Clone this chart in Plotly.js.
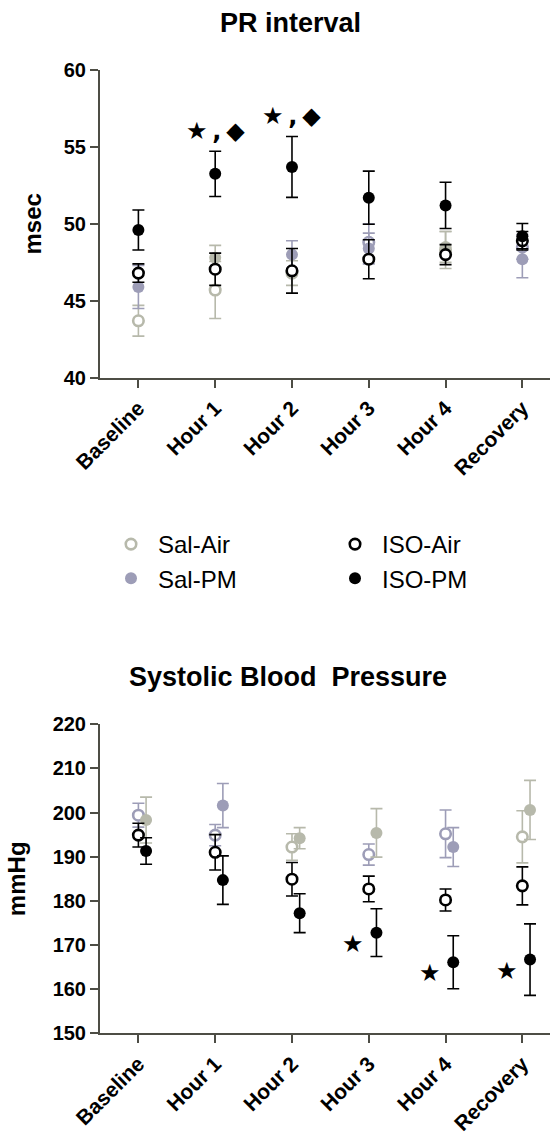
<!DOCTYPE html>
<html>
<head>
<meta charset="utf-8">
<script src="https://cdn.plot.ly/plotly-3.0.1.min.js"></script>
<style>
  html, body { margin: 0; padding: 0; background: #ffffff; }
  #chart { width: 550px; height: 1138px; }
</style>
</head>
<body>
<div id="chart"></div>
<script>
// Time points shared by both panels
const timepoints = ['Baseline', 'Hour 1', 'Hour 2', 'Hour 3', 'Hour 4', 'Recovery'];

// PR interval (msec), mean and SEM per group
const prSalAir     = [43.7, 45.7, 46.8, 48.8, 48.3, 48.5];
const prSalAirSem  = [1.0, 1.85, 0.8, 1.2, 1.2, 0.8];
const prSalPM      = [45.9, 47.8, 48.0, 48.4, 48.5, 47.7];
const prSalPMSem   = [1.4, 0.8, 0.9, 1.0, 1.0, 1.2];
const prIsoAir     = [46.8, 47.05, 46.95, 47.7, 48.0, 48.9];
const prIsoAirSem  = [0.6, 1.05, 1.45, 1.27, 0.65, 0.6];
const prIsoPM      = [49.6, 53.25, 53.7, 51.7, 51.2, 49.2];
const prIsoPMSem   = [1.3, 1.47, 1.98, 1.73, 1.5, 0.82];
const prSigLabels  = ['', '★\u2009<b>,</b>\u2009◆', '★\u2009<b>,</b>\u2009◆', '', '', ''];

// Systolic blood pressure (mmHg), mean and SEM per group
const sbpSalAir    = [199.4, 194.9, 192.2, 190.5, 195.2, 194.5];
const sbpSalAirSem = [2.7, 2.4, 3.0, 2.4, 5.4, 5.9];
const sbpSalPM     = [198.3, 201.6, 194.2, 195.4, 192.2, 200.6];
const sbpSalPMSem  = [5.2, 5.0, 2.4, 5.5, 4.4, 6.7];
const sbpIsoAir    = [194.9, 191.0, 184.9, 182.7, 180.2, 183.4];
const sbpIsoAirSem = [2.7, 4.0, 3.8, 2.9, 2.5, 4.3];
const sbpIsoPM     = [191.3, 184.7, 177.2, 172.8, 166.1, 166.7];
const sbpIsoPMSem  = [3.0, 5.5, 4.4, 5.4, 6.0, 8.1];
const sbpSigLabels = ['', '', '', '★', '★', '★'];

// Shade used for each saline point (g = grey-green, b = lavender grey)
const prSalAirShade  = ['g', 'g', 'g', 'b', 'g', 'b'];
const prSalPMShade   = ['b', 'g', 'b', 'b', 'g', 'b'];
const sbpSalAirShade = ['b', 'b', 'g', 'b', 'b', 'g'];
const sbpSalPMShade  = ['g', 'b', 'g', 'g', 'b', 'g'];

const FONT = 'Liberation Sans, Arial, Helvetica, sans-serif';
const SYMBOL_FONT = 'DejaVu Sans, sans-serif';
const SHADES = { g: '#b7b9ab', b: '#9d9db7', k: '#000000' };
const AXIS_COLOR = '#4d4d45';

const traces = [];

// Builds one trace per colour group so that markers and error bars share a colour
function addSeries(opts) {
  const shades = opts.shade || opts.mean.map(() => 'k');
  const groups = [...new Set(shades)];
  groups.forEach(key => {
    const idx = opts.mean.map((_, i) => i).filter(i => shades[i] === key);
    const color = SHADES[key];
    const open = opts.open;
    traces.push({
      type: 'scatter',
      mode: 'markers',
      name: opts.name,
      legend: opts.legend,
      legendrank: opts.rank,
      showlegend: opts.legendShade === key,
      xaxis: opts.xaxis,
      yaxis: opts.yaxis,
      x: idx.map(i => i + opts.offset),
      y: idx.map(i => opts.mean[i]),
      error_y: {
        type: 'data',
        array: idx.map(i => opts.sem[i]),
        color: color,
        thickness: 1.6,
        width: 6
      },
      marker: open
        ? { symbol: 'circle', size: 10.5, color: '#ffffff', line: { color: color, width: 2.6 } }
        : { symbol: 'circle', size: 12, color: color, line: { width: 0 } },
      hoverinfo: 'skip'
    });
  });
}

// PR interval panel
addSeries({ name: 'Sal-Air', mean: prSalAir, sem: prSalAirSem, shade: prSalAirShade, open: true,
  offset: 0, xaxis: 'x', yaxis: 'y', legend: 'legend', rank: 1, legendShade: 'g' });
addSeries({ name: 'Sal-PM', mean: prSalPM, sem: prSalPMSem, shade: prSalPMShade, open: false,
  offset: 0, xaxis: 'x', yaxis: 'y', legend: 'legend', rank: 2, legendShade: 'b' });
addSeries({ name: 'ISO-Air', mean: prIsoAir, sem: prIsoAirSem, open: true,
  offset: 0, xaxis: 'x', yaxis: 'y', legend: 'legend2', rank: 1, legendShade: 'k' });
addSeries({ name: 'ISO-PM', mean: prIsoPM, sem: prIsoPMSem, open: false,
  offset: 0, xaxis: 'x', yaxis: 'y', legend: 'legend2', rank: 2, legendShade: 'k' });

// Systolic blood pressure panel (PM groups drawn slightly to the right)
addSeries({ name: 'Sal-Air', mean: sbpSalAir, sem: sbpSalAirSem, shade: sbpSalAirShade, open: true,
  offset: 0, xaxis: 'x2', yaxis: 'y2', legend: 'legend', rank: 1, legendShade: null });
addSeries({ name: 'Sal-PM', mean: sbpSalPM, sem: sbpSalPMSem, shade: sbpSalPMShade, open: false,
  offset: 0.1, xaxis: 'x2', yaxis: 'y2', legend: 'legend', rank: 2, legendShade: null });
addSeries({ name: 'ISO-Air', mean: sbpIsoAir, sem: sbpIsoAirSem, open: true,
  offset: 0, xaxis: 'x2', yaxis: 'y2', legend: 'legend2', rank: 1, legendShade: null });
addSeries({ name: 'ISO-PM', mean: sbpIsoPM, sem: sbpIsoPMSem, open: false,
  offset: 0.1, xaxis: 'x2', yaxis: 'y2', legend: 'legend2', rank: 2, legendShade: null });

// Significance marks
const annotations = [];
prSigLabels.forEach((txt, i) => {
  if (!txt) return;
  annotations.push({
    xref: 'x', yref: 'y', x: i, y: prIsoPM[i] + prIsoPMSem[i],
    text: txt, showarrow: false, yanchor: 'bottom', yshift: 4,
    font: { family: SYMBOL_FONT, size: 24, color: '#000' }
  });
});
sbpSigLabels.forEach((txt, i) => {
  if (!txt) return;
  annotations.push({
    xref: 'x2', yref: 'y2', x: i - 0.2, y: sbpIsoPM[i],
    text: txt, showarrow: false, yanchor: 'middle', yshift: -11,
    font: { family: SYMBOL_FONT, size: 24, color: '#000' }
  });
});

// Panel titles
annotations.push({
  xref: 'paper', yref: 'paper', x: 0.4244, y: 1 - 22.7 / 1138, xanchor: 'center', yanchor: 'middle',
  text: '<b>PR interval</b>', showarrow: false, font: { family: FONT, size: 27, color: '#000' }
});
annotations.push({
  xref: 'paper', yref: 'paper', x: 0.4167, y: 1 - 676.7 / 1138, xanchor: 'center', yanchor: 'middle',
  text: '<b>Systolic Blood\u00a0 Pressure</b>', showarrow: false, font: { family: FONT, size: 27, color: '#000' }
});

const xCommon = {
  range: [-0.5, 5.36],
  tickmode: 'array',
  tickvals: timepoints.map((_, i) => i),
  ticktext: timepoints.map(t => '<b>' + t + '</b>'),
  tickangle: -45,
  tickfont: { family: FONT, size: 21, color: '#000' },
  ticks: 'outside', ticklen: 8, tickwidth: 2, tickcolor: AXIS_COLOR,
  showline: true, linecolor: AXIS_COLOR, linewidth: 2,
  showgrid: false, zeroline: false, fixedrange: true
};
const yCommon = {
  tickfont: { family: FONT, size: 20, color: '#000' },
  ticks: 'outside', ticklen: 8, tickwidth: 2, tickcolor: AXIS_COLOR,
  showline: true, linecolor: AXIS_COLOR, linewidth: 2,
  showgrid: false, zeroline: false, fixedrange: true,
  tickprefix: '<b>', ticksuffix: '</b>'
};

const legendCommon = {
  xref: 'paper', yref: 'paper', y: 1 - 522 / 1138,
  xanchor: 'left', yanchor: 'top', orientation: 'v', itemwidth: 44,
  font: { family: FONT, size: 24, color: '#000' }, bgcolor: 'rgba(0,0,0,0)', itemclick: false
};

const layout = {
  width: 550, height: 1138,
  margin: { l: 100, r: 0, t: 0, b: 0 },
  paper_bgcolor: '#ffffff', plot_bgcolor: '#ffffff',
  font: { family: FONT, color: '#000' },
  showlegend: true,
  xaxis: Object.assign({}, xCommon, { anchor: 'y', domain: [0, 1] }),
  yaxis: Object.assign({}, yCommon, {
    anchor: 'x', domain: [1 - 377.7 / 1138, 1 - 70 / 1138],
    range: [40, 60], dtick: 5,
    title: { text: '<b>msec</b>', font: { family: FONT, size: 24, color: '#000' }, standoff: 15 }
  }),
  xaxis2: Object.assign({}, xCommon, { anchor: 'y2', domain: [0, 1] }),
  yaxis2: Object.assign({}, yCommon, {
    anchor: 'x2', domain: [1 - 1033.3 / 1138, 1 - 724.3 / 1138],
    range: [150, 220], dtick: 10,
    title: { text: '<b>mmHg</b>', font: { family: FONT, size: 24, color: '#000' }, standoff: 20 }
  }),
  legend: Object.assign({}, legendCommon, { x: (104 - 100) / 450 }),
  legend2: Object.assign({}, legendCommon, { x: (328 - 100) / 450 }),
  annotations: annotations
};

Plotly.newPlot('chart', traces, layout, { staticPlot: true, displayModeBar: false });
</script>
</body>
</html>
